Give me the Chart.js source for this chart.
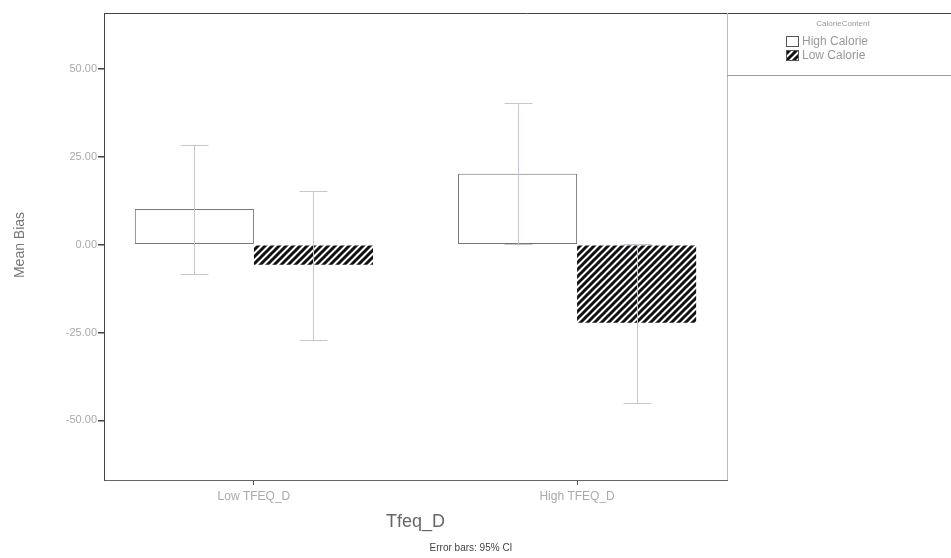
<!DOCTYPE html>
<html lang="en">
<head>
  <meta charset="UTF-8" />
  <title>Mean Bias by Tfeq_D and CalorieContent</title>
  <script src="https://cdn.jsdelivr.net/npm/chart.js"></script>
  <style>
    body { margin: 0; background: #fff; }
    #wrap { width: 951px; height: 558px; position: relative; }
  </style>
</head>
<body>
  <div id="wrap"><canvas id="biasChart"></canvas></div>

  <script>
  // data
  const categories = ['Low TFEQ_D', 'High TFEQ_D'];
  const seriesNames = ['High Calorie', 'Low Calorie'];
  const highCalMean = [10.2, 20.2];
  const highCalLo = [-8.2, 0.3];
  const highCalHi = [28.4, 40.3];
  const lowCalMean = [-5.7, -22.2];
  const lowCalLo = [-27.0, -45.2];
  const lowCalHi = [15.3, 0.2];
  const yTicks = [-50, -25, 0, 25, 50];

  const FONT = "'Liberation Sans', Arial, sans-serif";

  // black diagonal hatch for Low Calorie
  function makeHatch(ctx) {
    const s = 7;
    const c = document.createElement('canvas');
    c.width = s; c.height = s;
    const g = c.getContext('2d');
    g.fillStyle = '#fff';
    g.fillRect(0, 0, s, s);
    g.strokeStyle = '#111';
    g.lineWidth = 3;
    g.beginPath();
    g.moveTo(-1, s + 1); g.lineTo(s + 1, -1);
    g.moveTo(-2, 2); g.lineTo(2, -2);
    g.moveTo(s - 2, s + 2); g.lineTo(s + 2, s - 2);
    g.stroke();
    return ctx.createPattern(c, 'repeat');
  }

  const ctx = document.getElementById('biasChart').getContext('2d');
  const hatch = makeHatch(ctx);

  const errorBars = {
    id: 'errorBars',
    afterDatasetsDraw(chart) {
      const c = chart.ctx;
      const y = chart.scales.y;
      const sets = [[highCalLo, highCalHi], [lowCalLo, lowCalHi]];
      c.save();
      c.strokeStyle = '#c4c4d2';
      c.lineWidth = 1;
      sets.forEach((s, di) => {
        chart.getDatasetMeta(di).data.forEach((bar, i) => {
          const x = Math.round(bar.x) + 0.5;
          const yl = Math.round(y.getPixelForValue(s[0][i])) + 0.5;
          const yh = Math.round(y.getPixelForValue(s[1][i])) + 0.5;
          c.beginPath();
          c.moveTo(x, yl); c.lineTo(x, yh);
          c.moveTo(x - 14, yl); c.lineTo(x + 14, yl);
          c.moveTo(x - 14, yh); c.lineTo(x + 14, yh);
          c.stroke();
        });
      });
      c.restore();
    }
  };

  const frameAndText = {
    id: 'frameAndText',
    afterDraw(chart) {
      const c = chart.ctx;
      const a = chart.chartArea;
      c.save();
      // top frame line running across legend too
      c.strokeStyle = '#444';
      c.lineWidth = 1;
      c.beginPath();
      c.moveTo(a.left, a.top + 0.5); c.lineTo(chart.width, a.top + 0.5);
      c.stroke();
      // right border of plot
      c.strokeStyle = '#bbb';
      c.beginPath();
      c.moveTo(a.right + 0.5, a.top); c.lineTo(a.right + 0.5, a.bottom);
      c.stroke();
      // legend box bottom
      c.strokeStyle = '#999';
      c.beginPath();
      c.moveTo(a.right, 75.5); c.lineTo(chart.width, 75.5);
      c.stroke();

      // legend
      c.fillStyle = '#999';
      c.font = '8px ' + FONT;
      c.textAlign = 'center';
      c.textBaseline = 'middle';
      c.fillText('CalorieContent', 843, 24);
      c.strokeStyle = '#555';
      c.fillStyle = '#fff';
      c.fillRect(786.5, 36.5, 12, 10);
      c.strokeRect(786.5, 36.5, 12, 10);
      c.fillStyle = hatch;
      c.fillRect(786.5, 50.5, 12, 10);
      c.strokeRect(786.5, 50.5, 12, 10);
      c.fillStyle = '#999';
      c.font = '12px ' + FONT;
      c.textAlign = 'left';
      c.fillText(seriesNames[0], 802, 42);
      c.fillText(seriesNames[1], 802, 56);

      // axis titles and footnote
      c.fillStyle = '#666';
      c.font = '18px ' + FONT;
      c.textAlign = 'center';
      c.fillText('Tfeq_D', (a.left + a.right) / 2, 522);
      c.font = '10px ' + FONT;
      c.fillStyle = '#444';
      c.fillText('Error bars: 95% CI', 471, 548);
      c.translate(20, 245);
      c.rotate(-Math.PI / 2);
      c.fillStyle = '#777';
      c.font = '14px ' + FONT;
      c.fillText('Mean Bias', 0, 0);
      c.restore();
    }
  };

  new Chart(ctx, {
    type: 'bar',
    data: {
      datasets: [
        {
          label: seriesNames[0],
          data: highCalMean.map((v, i) => ({ x: i, y: v })),
          backgroundColor: '#fff',
          borderColor: '#777',
          borderWidth: 1,
          borderSkipped: false
        },
        {
          label: seriesNames[1],
          data: lowCalMean.map((v, i) => ({ x: i, y: v })),
          backgroundColor: hatch,
          borderWidth: 0
        }
      ]
    },
    options: {
      responsive: true,
      maintainAspectRatio: false,
      animation: false,
      events: [],
      layout: { padding: { left: 0, top: 13, right: 224, bottom: 0 } },
      barPercentage: 1,
      categoryPercentage: 0.737,
      plugins: {
        legend: { display: false },
        tooltip: { enabled: false }
      },
      scales: {
        x: {
          type: 'linear',
          offset: false,
          min: -0.464,
          max: 1.464,
          afterBuildTicks: s => { s.ticks = categories.map((_, i) => ({ value: i })); },
          afterFit: s => { s.height = 78; },
          ticks: {
            callback: v => categories[v],
            color: '#aaa',
            font: { family: FONT, size: 12 },
            padding: 4
          },
          grid: { offset: false, drawOnChartArea: false, tickLength: 5, color: '#555' },
          border: { color: '#666' }
        },
        y: {
          min: -67,
          max: 66,
          afterBuildTicks: s => { s.ticks = yTicks.map(v => ({ value: v })); },
          afterFit: s => { s.width = 104; },
          ticks: {
            callback: v => v.toFixed(2),
            color: '#aaa',
            font: { family: FONT, size: 11 },
            padding: 1
          },
          grid: { drawOnChartArea: false, tickLength: 6, color: '#444', lineWidth: 1.5 },
          border: { color: '#444' }
        }
      }
    },
    plugins: [errorBars, frameAndText]
  });
  </script>
</body>
</html>
